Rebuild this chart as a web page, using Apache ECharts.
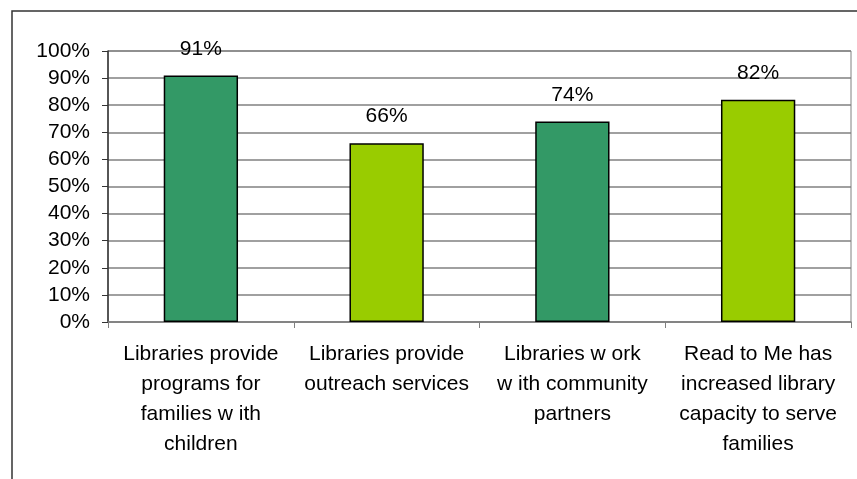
<!DOCTYPE html>
<html>
<head>
<meta charset="utf-8">
<script src="https://cdn.jsdelivr.net/npm/echarts@6/dist/echarts.min.js"></script>
<style>
  html, body { margin: 0; padding: 0; background: #fff; }
  #main { width: 857px; height: 479px; }
</style>
</head>
<body>
<div id="main"></div>
<script>
var categories = [
    'Libraries provide\nprograms for\nfamilies w ith\nchildren',
    'Libraries provide\noutreach services',
    'Libraries w ork\nw ith community\npartners',
    'Read to Me has\nincreased library\ncapacity to serve\nfamilies'
];
var values = [91, 66, 74, 82];
var barColors = ['#339966', '#99CC00', '#339966', '#99CC00'];

var chartDom = document.getElementById('main');
var myChart = echarts.init(chartDom);
var font = 'Liberation Sans';

var option = {
    animation: false,
    graphic: [{
        type: 'rect',
        shape: { x: 12, y: 11, width: 900, height: 520 },
        style: { fill: 'none', stroke: '#333', lineWidth: 1.5 },
        silent: true
    }],
    grid: {
        left: 108,
        right: 6,
        top: 51,
        bottom: 157,
        show: true,
        borderColor: '#808080',
        borderWidth: 1
    },
    xAxis: {
        type: 'category',
        data: categories,
        axisLine: { lineStyle: { color: '#808080', width: 1.5 } },
        axisTick: { show: true, length: 6, lineStyle: { color: '#808080' } },
        axisLabel: {
            interval: 0,
            margin: 17,
            fontFamily: font,
            fontSize: 21,
            lineHeight: 30,
            color: '#000'
        }
    },
    yAxis: {
        type: 'value',
        min: 0,
        max: 100,
        interval: 10,
        axisLine: { show: true, lineStyle: { color: '#333', width: 1.5 } },
        axisTick: { show: true, length: 6, lineStyle: { color: '#333' } },
        splitLine: { lineStyle: { color: '#808080', width: 1.5 } },
        axisLabel: {
            formatter: '{value}%',
            margin: 18,
            fontFamily: font,
            fontSize: 21,
            color: '#000'
        }
    },
    series: [{
        type: 'bar',
        barWidth: '40%',
        data: values.map(function (v, i) {
            return { value: v, itemStyle: { color: barColors[i] } };
        }),
        itemStyle: { borderColor: '#000', borderWidth: 1.5 },
        label: {
            show: true,
            position: 'top',
            distance: 16,
            formatter: '{c}%',
            fontFamily: font,
            fontSize: 21,
            color: '#000'
        }
    }]
};

myChart.setOption(option);
</script>
</body>
</html>
